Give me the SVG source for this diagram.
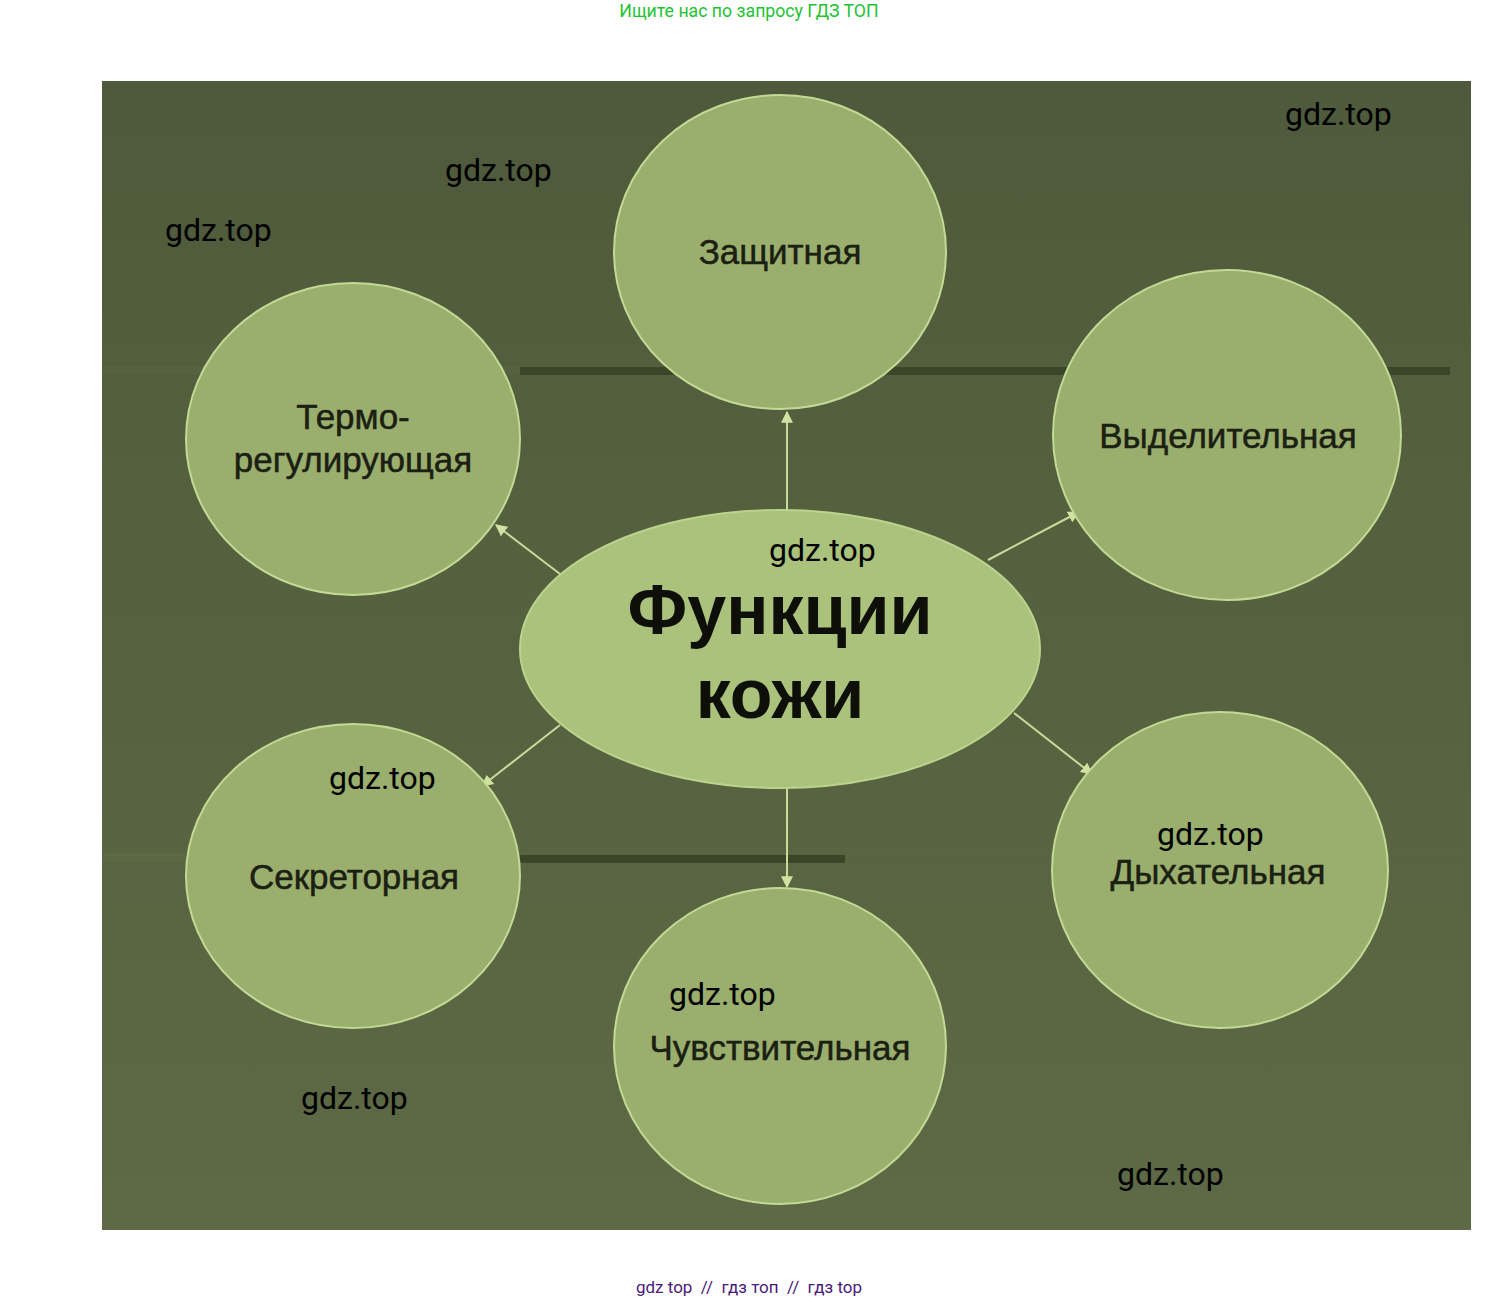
<svg xmlns="http://www.w3.org/2000/svg" width="1499" height="1302" viewBox="0 0 1499 1302">
<defs>
<linearGradient id="bg" x1="0" y1="0" x2="0" y2="1">
<stop offset="0" stop-color="#4e5a3b"/>
<stop offset="0.5" stop-color="#56623f"/>
<stop offset="1" stop-color="#5e6a46"/>
</linearGradient>
<marker id="ah" viewBox="0 0 10 10" refX="9" refY="5" markerWidth="6" markerHeight="6" orient="auto" markerUnits="strokeWidth">
<path d="M0,0 L10,5 L0,10 Z" fill="#cfe2a0"/>
</marker>
<style>
.node{fill:#9aae6e;stroke:#c3da94;stroke-width:2}
.center{fill:#abc27d;stroke:#bcd38c;stroke-width:2}
.lbl{font-family:"Liberation Sans",Arial,sans-serif;font-size:35px;fill:#1b2012;stroke:#1b2012;stroke-width:0.5;text-anchor:middle}
.big{font-family:"Liberation Sans",Arial,sans-serif;font-weight:bold;font-size:70px;fill:#0d0f08;text-anchor:middle}
.wm{font-family:Roboto,"Noto Sans",sans-serif;font-size:32px;fill:#000}
.conn line{stroke:#c8dc9a;stroke-width:2;marker-end:url(#ah)}
</style>
</defs>
<rect width="1499" height="1302" fill="#ffffff"/>
<text x="749" y="17" text-anchor="middle" font-family="Roboto,'Noto Sans',sans-serif" font-size="17.7" fill="#22c332">Ищите нас по запросу ГДЗ ТОП</text>
<g id="background">
<rect x="102" y="81" width="1369" height="1149" fill="url(#bg)"/>
<rect x="102" y="366" width="420" height="8" fill="#5a6644" opacity="0.4"/>
<rect x="520" y="367" width="930" height="8" fill="#3b4629"/>
<rect x="102" y="853" width="420" height="8" fill="#66724c" opacity="0.3"/>
<rect x="520" y="855" width="325" height="8" fill="#3b4629"/>
<rect x="845" y="857" width="626" height="4" fill="#56623f" opacity="0.5"/>
</g>
<g id="connectors" class="conn">
<line x1="787" y1="510" x2="787" y2="412"/>
<line x1="787" y1="788" x2="787" y2="887"/>
<line x1="560" y1="574" x2="496" y2="525"/>
<line x1="988" y1="560" x2="1079" y2="512"/>
<line x1="560" y1="725" x2="482" y2="786"/>
<line x1="1014" y1="713" x2="1092" y2="774"/>
</g>
<g id="node-center">
<ellipse class="center" cx="780" cy="649" rx="260" ry="139"/>
<text class="big" x="780" y="634">Функции</text>
<text class="big" x="780" y="718">кожи</text>
</g>
<g id="node-zashchitnaya">
<ellipse class="node" cx="780" cy="252" rx="166" ry="157"/>
<text class="lbl" x="780" y="264">Защитная</text>
</g>
<g id="node-termo">
<ellipse class="node" cx="353" cy="439" rx="167" ry="156"/>
<text class="lbl" x="353" y="429">Термо-</text>
<text class="lbl" x="353" y="472">регулирующая</text>
</g>
<g id="node-vydelitelnaya">
<ellipse class="node" cx="1227" cy="435" rx="174" ry="165"/>
<text class="lbl" x="1228" y="448">Выделительная</text>
</g>
<g id="node-sekretornaya">
<ellipse class="node" cx="353" cy="876" rx="167" ry="152"/>
<text class="lbl" x="354" y="889">Секреторная</text>
</g>
<g id="node-chuvstvitelnaya">
<ellipse class="node" cx="780" cy="1046" rx="166" ry="158"/>
<text class="lbl" x="780" y="1060">Чувствительная</text>
</g>
<g id="node-dykhatelnaya">
<ellipse class="node" cx="1220" cy="870" rx="168" ry="158"/>
<text class="lbl" x="1218" y="884">Дыхательная</text>
</g>
<g id="watermarks">
<text class="wm" x="445" y="181">gdz.top</text>
<text class="wm" x="165" y="241">gdz.top</text>
<text class="wm" x="1285" y="125">gdz.top</text>
<text class="wm" x="769" y="561">gdz.top</text>
<text class="wm" x="329" y="789">gdz.top</text>
<text class="wm" x="1157" y="845">gdz.top</text>
<text class="wm" x="669" y="1005">gdz.top</text>
<text class="wm" x="301" y="1109">gdz.top</text>
<text class="wm" x="1117" y="1185">gdz.top</text>
</g>
<text x="749" y="1293" text-anchor="middle" font-family="Roboto,'Noto Sans',sans-serif" font-size="17" fill="#4a1a78" xml:space="preserve">gdz top  //  гдз топ  //  гдз top</text>
</svg>
